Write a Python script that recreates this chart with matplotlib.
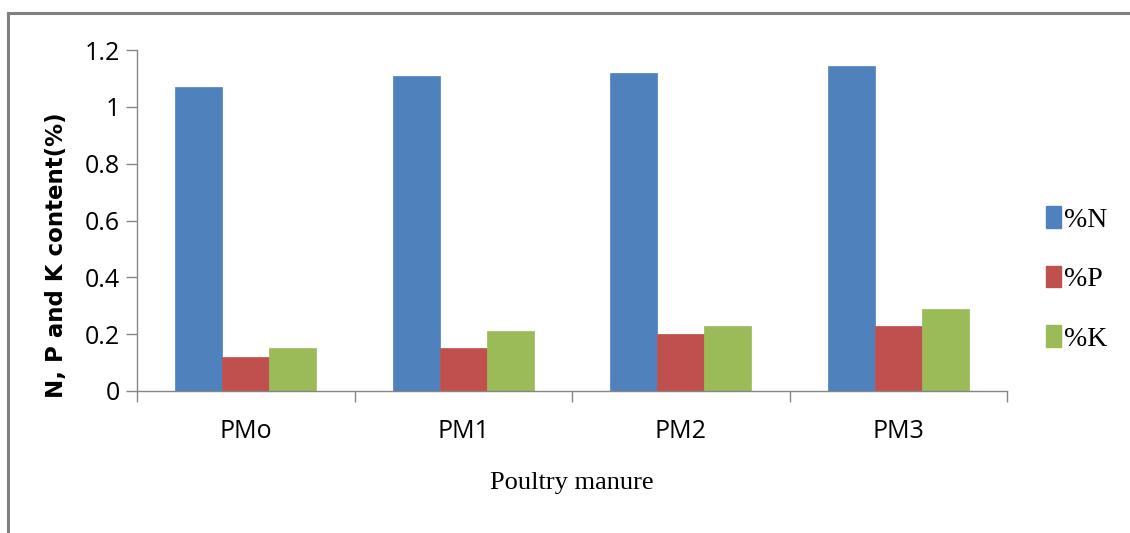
import matplotlib
matplotlib.use('Agg')
import numpy as np
import matplotlib.pyplot as plt
from matplotlib.lines import Line2D
from matplotlib.patches import Patch

# Data
categories = ['PMo', 'PM1', 'PM2', 'PM3']
series_names = ['%N', '%P', '%K']
n_pct = [1.07, 1.11, 1.12, 1.145]
p_pct = [0.12, 0.15, 0.20, 0.23]
k_pct = [0.15, 0.21, 0.23, 0.29]
yticks = [0, 0.2, 0.4, 0.6, 0.8, 1, 1.2]
ytick_labels = ['0', '0.2', '0.4', '0.6', '0.8', '1', '1.2']

COLORS = ['#4F81BD', '#C0504D', '#9BBB59']
AXIS_GREY = '#868686'
SANS = ['Liberation Sans Narrow', 'Open Sans', 'DejaVu Sans']
SERIF = ['Liberation Serif', 'DejaVu Serif']

fig = plt.figure(figsize=(11.3, 5.33), dpi=100)
ax = fig.add_axes([137 / 1130, 1 - 391 / 533, 870 / 1130, 341 / 533])

x = np.arange(len(categories))
w = 0.216
for k, (vals, col) in enumerate(zip([n_pct, p_pct, k_pct], COLORS)):
    ax.bar(x + (k - 1) * w, vals, width=w, color=col, edgecolor=col, linewidth=0.5)

ax.set_xlim(-0.5, len(categories) - 0.5)
ax.set_ylim(0, 1.2)

# y axis
ax.set_yticks(yticks)
ax.set_yticklabels(ytick_labels, family=SANS, fontsize=18, color='#000000')
# x axis: labels at centres, tick marks at category boundaries
ax.set_xticks(x)
ax.set_xticklabels(categories, family=SANS, fontsize=18)
ax.tick_params(axis='x', which='major', length=0, pad=20)
ax.set_xticks(np.arange(len(categories) + 1) - 0.5, minor=True)
ax.tick_params(axis='x', which='minor', length=8, color=AXIS_GREY, width=1)
ax.tick_params(axis='y', length=8, color=AXIS_GREY, width=1, pad=4)

for s in ['top', 'right']:
    ax.spines[s].set_visible(False)
for s in ['left', 'bottom']:
    ax.spines[s].set_color(AXIS_GREY)
    ax.spines[s].set_linewidth(1)

fig.text(572 / 1130, 1 - 483 / 533, 'Poultry manure', family=SERIF, fontsize=19,
         ha='center', va='center')
fig.text(57 / 1130, 1 - 255 / 533, 'N, P and K content(%)', family=['DejaVu Sans'],
         fontsize=16.5, fontweight='bold', rotation=90, ha='center', va='center')

handles = [Patch(facecolor=c, edgecolor=c) for c in COLORS]
fig.legend(handles, series_names, loc='center left',
           bbox_to_anchor=(1046 / 1130, 1 - 279 / 533), frameon=False,
           prop={'family': SERIF, 'size': 20}, handlelength=0.55, handleheight=0.8,
           handletextpad=0.1, labelspacing=1.2, borderpad=0, borderaxespad=0)

# frame lines of the original figure box
fig.add_artist(Line2D([7.5 / 1130, 1], [1 - 12.5 / 533, 1 - 12.5 / 533],
                      color='#808080', linewidth=2.2, transform=fig.transFigure))
fig.add_artist(Line2D([7.5 / 1130, 7.5 / 1130], [0, 1 - 12.5 / 533],
                      color='#808080', linewidth=2.2, transform=fig.transFigure))

fig.savefig('out.png', dpi=100)
